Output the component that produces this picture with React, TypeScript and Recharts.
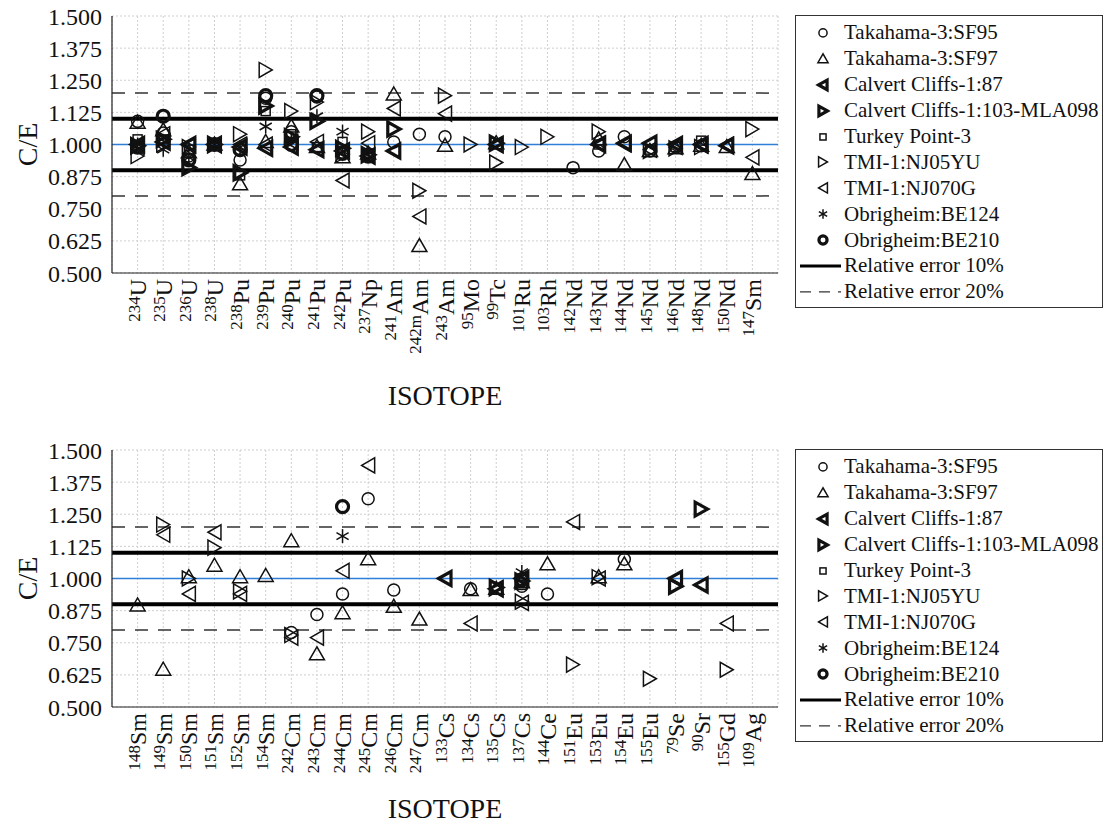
import React from 'react';
import {
  ScatterChart,
  Scatter,
  XAxis,
  YAxis,
  CartesianGrid,
  ReferenceLine,
  Legend,
} from 'recharts';

const FONT = '"Liberation Serif", "Times New Roman", serif';

// ---- Category labels (mass number + element) ----
const topMass = ['234', '235', '236', '238', '238', '239', '240', '241', '242', '237', '241', '242m', '243', '95', '99', '101', '103', '142', '143', '144', '145', '146', '148', '150', '147'];
const topElement = ['U', 'U', 'U', 'U', 'Pu', 'Pu', 'Pu', 'Pu', 'Pu', 'Np', 'Am', 'Am', 'Am', 'Mo', 'Tc', 'Ru', 'Rh', 'Nd', 'Nd', 'Nd', 'Nd', 'Nd', 'Nd', 'Nd', 'Sm'];

const bottomMass = ['148', '149', '150', '151', '152', '154', '242', '243', '244', '245', '246', '247', '133', '134', '135', '137', '144', '151', '153', '154', '155', '79', '90', '155', '109'];
const bottomElement = ['Sm', 'Sm', 'Sm', 'Sm', 'Sm', 'Sm', 'Cm', 'Cm', 'Cm', 'Cm', 'Cm', 'Cm', 'Cs', 'Cs', 'Cs', 'Cs', 'Ce', 'Eu', 'Eu', 'Eu', 'Eu', 'Se', 'Sr', 'Gd', 'Ag'];

// ---- Series names ----
const seriesNames = [
  'Takahama-3:SF95',
  'Takahama-3:SF97',
  'Calvert Cliffs-1:87',
  'Calvert Cliffs-1:103-MLA098',
  'Turkey Point-3',
  'TMI-1:NJ05YU',
  'TMI-1:NJ070G',
  'Obrigheim:BE124',
  'Obrigheim:BE210',
];

// ---- C/E values, upper panel (one entry per isotope, null = no measurement) ----
const N = null;
const topSF95 = [1.09, 1.045, 0.955, 1.0, 0.94, 1.18, 1.05, 1.185, 0.97, N, 1.01, 1.04, 1.03, N, N, N, N, 0.91, 0.975, 1.03, 0.975, 0.99, 0.995, N, N];
const topSF97 = [1.085, 1.055, 0.97, 1.0, 0.845, 1.01, 1.07, 0.99, 0.95, 0.965, 1.195, 0.605, 0.995, N, 1.005, N, N, N, 1.02, 0.92, 0.975, 0.985, 0.995, 0.99, 0.885];
const topCC87 = [1.0, 1.01, 1.0, 1.0, 0.99, 0.985, 0.99, 0.98, 0.975, 0.955, 0.975, N, N, N, 1.0, N, N, N, 1.0, 1.005, 1.005, 1.0, 1.0, 0.995, N];
const topCC103 = [0.995, 1.02, 0.91, 1.0, 0.89, 1.15, 1.03, 1.09, 0.985, 0.96, 1.06, N, N, N, 1.005, N, N, N, N, N, N, N, N, N, N];
const topTP3 = [1.02, 1.02, 0.98, 1.0, 0.88, 1.13, 1.04, 0.99, 1.01, 0.965, N, N, N, N, N, N, N, N, 1.0, N, 0.98, 0.99, 1.015, N, N];
const topNJ05YU = [0.955, 1.0, 0.99, 1.0, 1.04, 1.29, 1.13, 1.165, 0.96, 1.05, N, 0.82, 1.19, 1.0, 0.93, 0.99, 1.03, N, 1.05, N, 0.975, 0.985, 0.99, N, 1.06];
const topNJ070G = [0.99, 1.04, 0.995, 1.0, 1.0, 1.0, 1.01, 1.01, 0.86, 1.005, 1.14, 0.72, 1.12, N, 1.0, N, N, N, 1.005, 1.0, 0.98, 0.99, 0.995, 1.0, 0.95];
const topBE124 = [1.0, 0.98, 0.95, 1.0, 0.99, 1.07, 1.02, 1.11, 1.05, 0.96, N, N, N, N, N, N, N, N, N, N, N, N, N, N, N];
const topBE210 = [0.99, 1.11, 0.94, 1.0, 0.98, 1.19, 1.0, 1.19, 0.965, 0.955, N, N, N, N, N, N, N, N, N, N, N, N, N, N, N];

// ---- C/E values, lower panel ----
const botSF95 = [N, N, N, N, N, N, 0.79, 0.86, 0.94, 1.31, 0.955, N, N, 0.96, N, 0.97, 0.94, N, N, 1.075, N, N, N, N, N];
const botSF97 = [0.895, 0.645, 1.005, 1.05, 1.005, 1.01, 1.145, 0.705, 0.865, 1.075, 0.89, 0.84, N, 0.955, 0.96, 0.985, 1.055, N, 1.005, 1.055, N, N, N, N, N];
const botCC87 = [N, N, N, N, N, N, N, N, N, N, N, N, 1.0, N, 0.96, 1.0, N, N, N, N, N, 1.0, 0.975, N, N];
const botCC103 = [N, N, N, N, N, N, N, N, N, N, N, N, N, N, 0.965, 0.99, N, N, N, N, N, 0.97, 1.27, N, N];
const botTP3 = [N, N, N, N, N, N, N, N, N, N, N, N, N, N, N, 0.975, N, N, N, N, N, N, N, N, N];
const botNJ05YU = [N, 1.21, 1.0, 1.12, 0.95, N, 0.78, N, N, N, N, N, N, N, 0.965, 0.91, N, 0.665, 1.005, N, 0.61, N, N, 0.645, N];
const botNJ070G = [N, 1.17, 0.94, 1.18, 0.94, N, 0.77, 0.77, 1.03, 1.44, N, N, N, 0.825, 0.96, 0.905, N, 1.22, 1.0, N, N, N, N, 0.825, N];
const botBE124 = [N, N, N, N, N, N, N, N, 1.165, N, N, N, N, N, N, 1.025, N, N, N, N, N, N, N, N, N];
const botBE210 = [N, N, N, N, N, N, N, N, 1.28, N, N, N, N, N, N, 0.995, N, N, N, N, N, N, N, N, N];

const topValues = [topSF95, topSF97, topCC87, topCC103, topTP3, topNJ05YU, topNJ070G, topBE124, topBE210];
const bottomValues = [botSF95, botSF97, botCC87, botCC103, botTP3, botNJ05YU, botNJ070G, botBE124, botBE210];

// ---- Axes ----
const yTicks = [0.5, 0.625, 0.75, 0.875, 1.0, 1.125, 1.25, 1.375, 1.5];
const catTicks = topMass.map((_, i) => i + 1);
const limit10 = [0.9, 1.1];
const limit20 = [0.8, 1.2];

type Kind =
  | 'circle'
  | 'triUp'
  | 'triLeftBold'
  | 'triRightBold'
  | 'square'
  | 'triRight'
  | 'triLeft'
  | 'asterisk'
  | 'circleBold';

const seriesKinds: Kind[] = [
  'circle',
  'triUp',
  'triLeftBold',
  'triRightBold',
  'square',
  'triRight',
  'triLeft',
  'asterisk',
  'circleBold',
];

const INK = '#111';

function Marker({ kind, cx, cy, s = 1 }: { kind: Kind; cx: number; cy: number; s?: number }) {
  const thin = 1.5;
  const bold = 3.2;
  const pts = (arr: number[][]) => arr.map(([a, b]) => `${cx + a * s},${cy + b * s}`).join(' ');
  switch (kind) {
    case 'circle':
      return <circle cx={cx} cy={cy} r={6 * s} fill="none" stroke={INK} strokeWidth={thin} />;
    case 'circleBold':
      return <circle cx={cx} cy={cy} r={6 * s} fill="none" stroke={INK} strokeWidth={bold} />;
    case 'triUp':
      return <polygon points={pts([[0, -7.5], [-7.5, 5.5], [7.5, 5.5]])} fill="none" stroke={INK} strokeWidth={thin} />;
    case 'triLeft':
      return <polygon points={pts([[-6.5, 0], [6.5, -7.5], [6.5, 7.5]])} fill="none" stroke={INK} strokeWidth={thin} />;
    case 'triRight':
      return <polygon points={pts([[6.5, 0], [-6.5, -7.5], [-6.5, 7.5]])} fill="none" stroke={INK} strokeWidth={thin} />;
    case 'triLeftBold':
      return <polygon points={pts([[-6.5, 0], [6, -7], [6, 7]])} fill="none" stroke={INK} strokeWidth={bold} strokeLinejoin="miter" />;
    case 'triRightBold':
      return <polygon points={pts([[6.5, 0], [-6, -7], [-6, 7]])} fill="none" stroke={INK} strokeWidth={bold} strokeLinejoin="miter" />;
    case 'square':
      return <rect x={cx - 4.5 * s} y={cy - 4.5 * s} width={9 * s} height={9 * s} fill="none" stroke={INK} strokeWidth={thin} />;
    case 'asterisk': {
      const r = 7 * s;
      const dx = r * Math.cos(Math.PI / 6);
      const dy = r * Math.sin(Math.PI / 6);
      return (
        <g stroke={INK} strokeWidth={1.5}>
          <line x1={cx} y1={cy - r} x2={cx} y2={cy + r} />
          <line x1={cx - dx} y1={cy - dy} x2={cx + dx} y2={cy + dy} />
          <line x1={cx - dx} y1={cy + dy} x2={cx + dx} y2={cy - dy} />
        </g>
      );
    }
    default:
      return null;
  }
}

function toPoints(values: (number | null)[]) {
  const out: { x: number; y: number }[] = [];
  values.forEach((v, i) => {
    if (v !== null) out.push({ x: i + 1, y: v });
  });
  return out;
}

function IsotopeTick(props: any) {
  const { x, y, payload, masses, elements } = props;
  const i = Math.round(payload.value) - 1;
  if (i < 0 || i >= masses.length) return null;
  return (
    <g transform={`translate(${x},${y}) rotate(-90)`}>
      <text x={-6} y={0} textAnchor="end" fill={INK} style={{ fontFamily: FONT }}>
        <tspan fontSize={17} dy={2}>{masses[i]}</tspan>
        <tspan fontSize={24} dy={6.5}>{elements[i]}</tspan>
      </text>
    </g>
  );
}

function renderYLabel(props: any) {
  const vb = props && props.viewBox ? props.viewBox : { x: 0, y: 16, width: 112, height: 257 };
  const cx = vb.x + 27;
  const cy = vb.y + vb.height / 2;
  return (
    <text
      x={cx}
      y={cy}
      transform={`rotate(-90 ${cx} ${cy})`}
      textAnchor="middle"
      dominantBaseline="central"
      fontSize={28}
      fill={INK}
      style={{ fontFamily: FONT }}
    >
      C/E
    </text>
  );
}

const ROW = 25.9;

function LegendBox() {
  return (
    <div
      style={{
        width: 308,
        height: 293,
        border: '1px solid #333',
        boxSizing: 'border-box',
        background: '#fff',
        fontFamily: FONT,
        fontSize: 21,
        color: INK,
        paddingTop: 4,
      }}
    >
      {seriesNames.map((name, i) => (
        <div key={name} style={{ height: ROW, display: 'flex', alignItems: 'center', whiteSpace: 'nowrap' }}>
          <svg width={48} height={ROW} style={{ flex: 'none' }}>
            <Marker kind={seriesKinds[i]} cx={27} cy={ROW / 2} s={0.68} />
          </svg>
          <span>{name}</span>
        </div>
      ))}
      <div style={{ height: ROW, display: 'flex', alignItems: 'center', whiteSpace: 'nowrap' }}>
        <svg width={48} height={ROW} style={{ flex: 'none' }}>
          <line x1={4} x2={45} y1={ROW / 2} y2={ROW / 2} stroke="#000" strokeWidth={3} />
        </svg>
        <span>Relative error 10%</span>
      </div>
      <div style={{ height: ROW, display: 'flex', alignItems: 'center', whiteSpace: 'nowrap' }}>
        <svg width={48} height={ROW} style={{ flex: 'none' }}>
          <line x1={4} x2={45} y1={ROW / 2} y2={ROW / 2} stroke="#333" strokeWidth={1.3} strokeDasharray="11 8" />
        </svg>
        <span>Relative error 20%</span>
      </div>
    </div>
  );
}

type PanelProps = {
  top: number;
  height: number;
  axisHeight: number;
  labelOffset: number;
  masses: string[];
  elements: string[];
  values: (number | null)[][];
};

function Panel({ top, height, axisHeight, labelOffset, masses, elements, values }: PanelProps) {
  const frame = { stroke: '#222', strokeWidth: 1.2 };
  return (
    <div style={{ position: 'absolute', left: 0, top, width: 1105, height }}>
      <ScatterChart
        width={1105}
        height={height}
        margin={{ top: 16, right: 327, bottom: 0, left: 0 }}
        style={{ fontFamily: FONT }}
      >
        <CartesianGrid stroke="#cfcfcf" strokeDasharray="2 2" />
        <XAxis
          type="number"
          dataKey="x"
          domain={[0, 26]}
          ticks={catTicks}
          interval={0}
          height={axisHeight}
          tickSize={0}
          tickMargin={0}
          tickLine={false}
          axisLine={frame}
          tick={(p: any) => <IsotopeTick {...p} masses={masses} elements={elements} />}
          label={{
            value: 'ISOTOPE',
            position: 'insideBottom',
            offset: labelOffset,
            fill: INK,
            fontSize: 28,
            fontFamily: FONT,
            style: { fontFamily: FONT },
          }}
        />
        <XAxis xAxisId="frameTop" orientation="top" mirror type="number" domain={[0, 26]} ticks={catTicks} interval={0} height={0} tickSize={8} tick={false} axisLine={frame} tickLine={frame} />
        <XAxis xAxisId="frameBottom" orientation="bottom" mirror type="number" domain={[0, 26]} ticks={catTicks} interval={0} height={0} tickSize={8} tick={false} axisLine={frame} tickLine={frame} />
        <YAxis
          type="number"
          dataKey="y"
          domain={[0.5, 1.5]}
          ticks={yTicks}
          interval={0}
          width={112}
          tickSize={0}
          tickMargin={10}
          tickLine={false}
          axisLine={frame}
          tickFormatter={(v: number) => v.toFixed(3)}
          tick={{ fontSize: 24, fontFamily: FONT, fill: INK, style: { fontFamily: FONT } }}
          label={renderYLabel}
        />
        <YAxis yAxisId="frameLeft" orientation="left" mirror type="number" domain={[0.5, 1.5]} ticks={yTicks} interval={0} width={0} tickSize={8} tick={false} axisLine={frame} tickLine={frame} />
        <YAxis yAxisId="frameRight" orientation="right" mirror type="number" domain={[0.5, 1.5]} ticks={yTicks} interval={0} width={0} tickSize={8} tick={false} axisLine={frame} tickLine={frame} />

        {limit20.map((v) => (
          <ReferenceLine key={`l20-${v}`} y={v} stroke="#333" strokeWidth={1.5} strokeDasharray="13 10" />
        ))}
        {limit10.map((v) => (
          <ReferenceLine key={`l10-${v}`} y={v} stroke="#000" strokeWidth={4} />
        ))}
        <ReferenceLine y={1.0} stroke="#2f7fd6" strokeWidth={1.4} />

        {values.map((vals, i) => (
          <Scatter
            key={seriesNames[i]}
            name={seriesNames[i]}
            data={toPoints(vals)}
            isAnimationActive={false}
            legendType="none"
            shape={(p: any) => <Marker kind={seriesKinds[i]} cx={p.cx} cy={p.cy} />}
          />
        ))}

        <Legend
          layout="vertical"
          align="center"
          verticalAlign="middle"
          wrapperStyle={{ left: 795, top: 15, width: 308, height: 293 }}
          content={() => <LegendBox />}
        />
      </ScatterChart>
    </div>
  );
}

export default function App() {
  return (
    <div style={{ position: 'absolute', left: 0, top: 0, width: 1105, height: 828, background: '#fff', fontFamily: FONT }}>
      <Panel top={0} height={415} axisHeight={142} labelOffset={10} masses={topMass} elements={topElement} values={topValues} />
      <Panel top={434} height={394} axisHeight={121} labelOffset={10} masses={bottomMass} elements={bottomElement} values={bottomValues} />
    </div>
  );
}
